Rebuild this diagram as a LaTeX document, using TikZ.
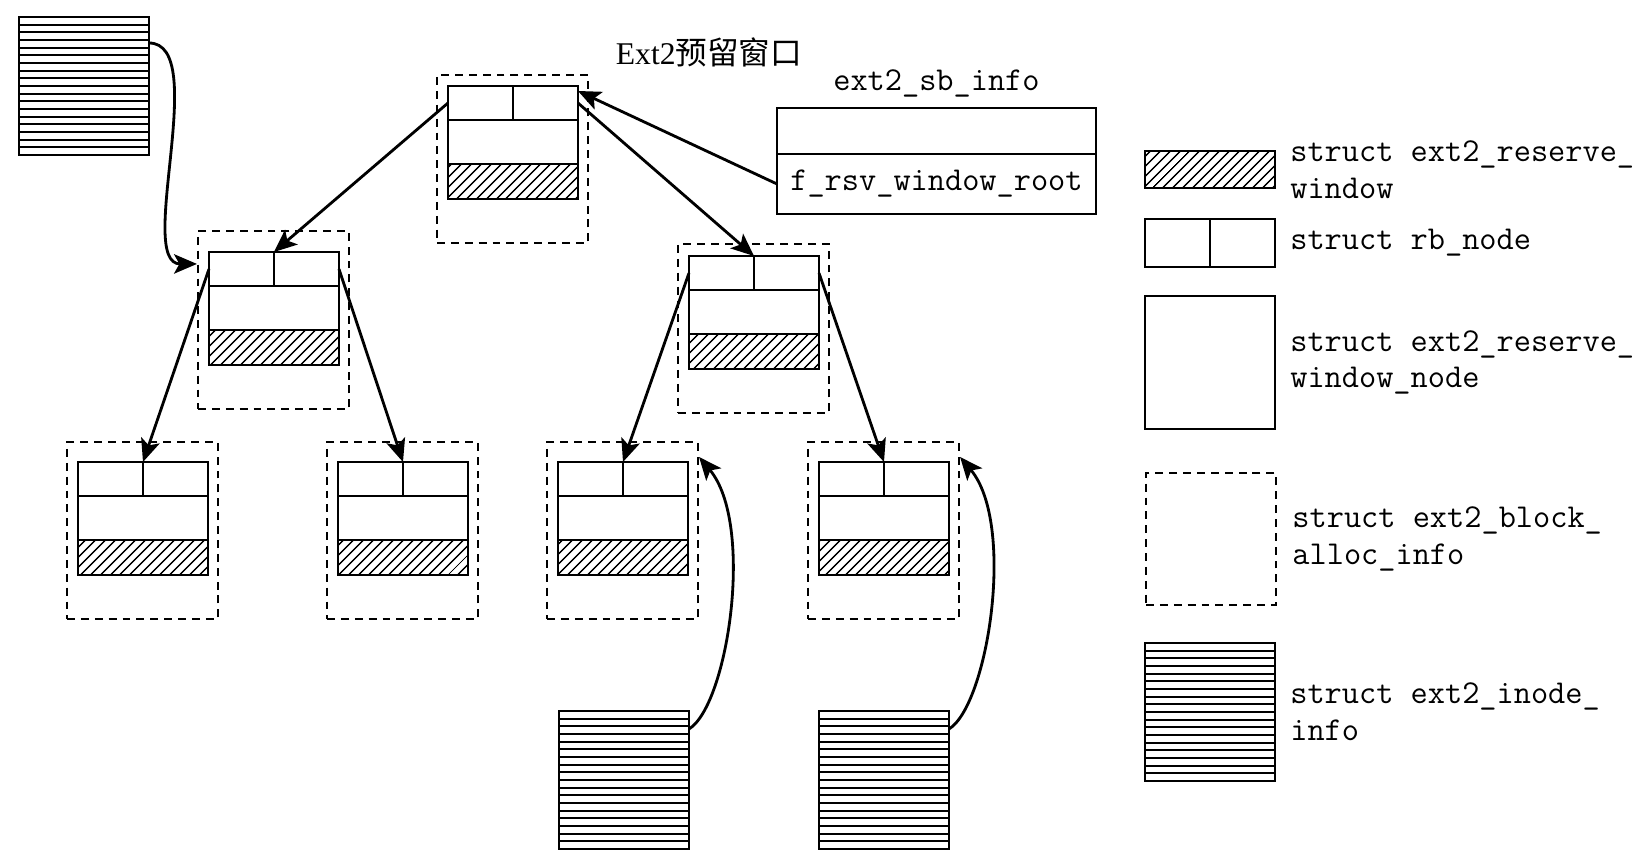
\documentclass[tikz,border=0pt]{standalone}
\usepackage{fontspec}
\setmainfont{Liberation Serif}
\newfontfamily\cjk{Noto Sans CJK SC}
\usetikzlibrary{positioning,calc,fit,arrows.meta,patterns.meta}
\newcommand{\codefont}{\ttfamily\fontsize{19}{21}\selectfont}

\begin{document}
\begin{tikzpicture}[x=0.02cm, y=-0.02cm,
    cell/.style={draw, line width=1.2pt, inner sep=0pt, outer sep=0pt, minimum width=2.6cm},
    rbrow/.style={cell, minimum height=0.68cm},
    midrow/.style={cell, minimum height=0.88cm},
    winrow/.style={cell, minimum height=0.7cm, pattern={Lines[angle=45,distance=4pt,line width=0.9pt]}},
    inodebox/.style={cell, minimum height=2.76cm},
    dashbox/.style={draw, line width=1.2pt, dash pattern=on 4.5pt off 3.4pt, inner sep=0pt},
    codetext/.style={font=\codefont, inner sep=0pt, align=left},
    arr/.style={-{Stealth[length=13pt,width=11pt,inset=3pt]}, line width=1.6pt}]

    \useasboundingbox (0,0) rectangle (1652,864);

    % Titolo
    \node (title) at (709,52) {\fontsize{18}{18}\selectfont Ext2{\cjk 预留窗口}};

    % Finestre di prenotazione (albero rosso-nero)
    \foreach \n/\x/\y/\g in {T/448/86/11, L/209/252/21, R/689/256/12,
                             LL/78/462/20, LR/338/462/20, RL/558/462/20, RR/819/462/20}{
        \node[rbrow, anchor=north west] (\n-rb) at (\x,\y) {};
        \node[midrow, below=0pt of \n-rb] (\n-mid) {};
        \node[winrow, below=0pt of \n-mid] (\n-win) {};
        \draw[line width=1.2pt] (\n-rb.north) -- (\n-rb.south);
        \coordinate (\n-a) at ($(\n-rb.north west)+(-11,-\g)$);
        \coordinate (\n-b) at ($(\n-win.south east)+(10,44)$);
        \node[dashbox, fit=(\n-a)(\n-b)] (\n) {};
    }

    % Superblocco
    \node[cell, anchor=north west, minimum width=6.38cm, minimum height=0.92cm] (sbtop) at (777,108) {};
    \node[cell, below=0pt of sbtop, minimum width=6.38cm, minimum height=1.2cm, font=\codefont] (sbroot) {f\_rsv\_window\_root};
    \node[codetext, above=6pt of sbtop] (sblabel) {ext2\_sb\_info};

    % Inode
    \node[inodebox, anchor=north west] (i1) at (19,17) {};
    \node[inodebox, anchor=north west] (i2) at (559,711) {};
    \node[inodebox, anchor=north west] (i3) at (819,711) {};
    \node[inodebox, anchor=north west] (lgino) at (1145,643) {};
    % righe orizzontali
    \foreach \b in {i1,i2,i3,lgino}{
        \foreach \k in {1,...,17}{
            \draw[line width=1.2pt] ($(\b.north west)+(0,\k*7.67)$) -- ($(\b.north east)+(0,\k*7.67)$);
        }
    }

    % Collegamenti
    \draw[arr] (sbroot.west) -- ($(T-rb.north east)+(0,5)$);
    \draw[arr] (T-rb.west) -- (L-rb.north);
    \draw[arr] (T-rb.east) -- (R-rb.north);
    \draw[arr] (L-rb.west) -- (LL-rb.north);
    \draw[arr] (L-rb.east) -- (LR-rb.north);
    \draw[arr] (R-rb.west) -- (RL-rb.north);
    \draw[arr] (R-rb.east) -- (RR-rb.north);
    \draw[arr] ($(i1.north east)+(0,26)$) .. controls +(62,0) and +(-62,0) .. ($(L.north west)+(0,34)$);
    \draw[arr] ($(i2.north east)+(0,18)$) .. controls +(39,-24) and +(56,67) .. ($(RL.north east)+(0,16)$);
    \draw[arr] ($(i3.north east)+(0,18)$) .. controls +(39,-24) and +(56,67) .. ($(RR.north east)+(0,16)$);

    % Legenda
    \node[winrow, anchor=north west, minimum height=0.74cm] (lgwin) at (1145,151) {};
    \node[codetext, right=0.3cm of lgwin] (lgwint) {struct ext2\_reserve\_\\window};
    \node[rbrow, anchor=north west, minimum height=0.96cm] (lgrb) at (1145,219) {};
    \draw[line width=1.2pt] (lgrb.north) -- (lgrb.south);
    \node[codetext, right=0.3cm of lgrb] (lgrbt) {struct rb\_node};
    \node[cell, anchor=north west, minimum height=2.66cm] (lgnode) at (1145,296) {};
    \node[codetext, right=0.3cm of lgnode] (lgnodet) {struct ext2\_reserve\_\\window\_node};
    \node[dashbox, anchor=north west, minimum width=2.6cm, minimum height=2.64cm] (lgbai) at (1145,472) {};
    \node[codetext, right=0.3cm of lgbai] (lgbait) {struct ext2\_block\_\\alloc\_info};
    \node[codetext, right=0.3cm of lgino] (lginot) {struct ext2\_inode\_\\info};

\end{tikzpicture}
\end{document}
